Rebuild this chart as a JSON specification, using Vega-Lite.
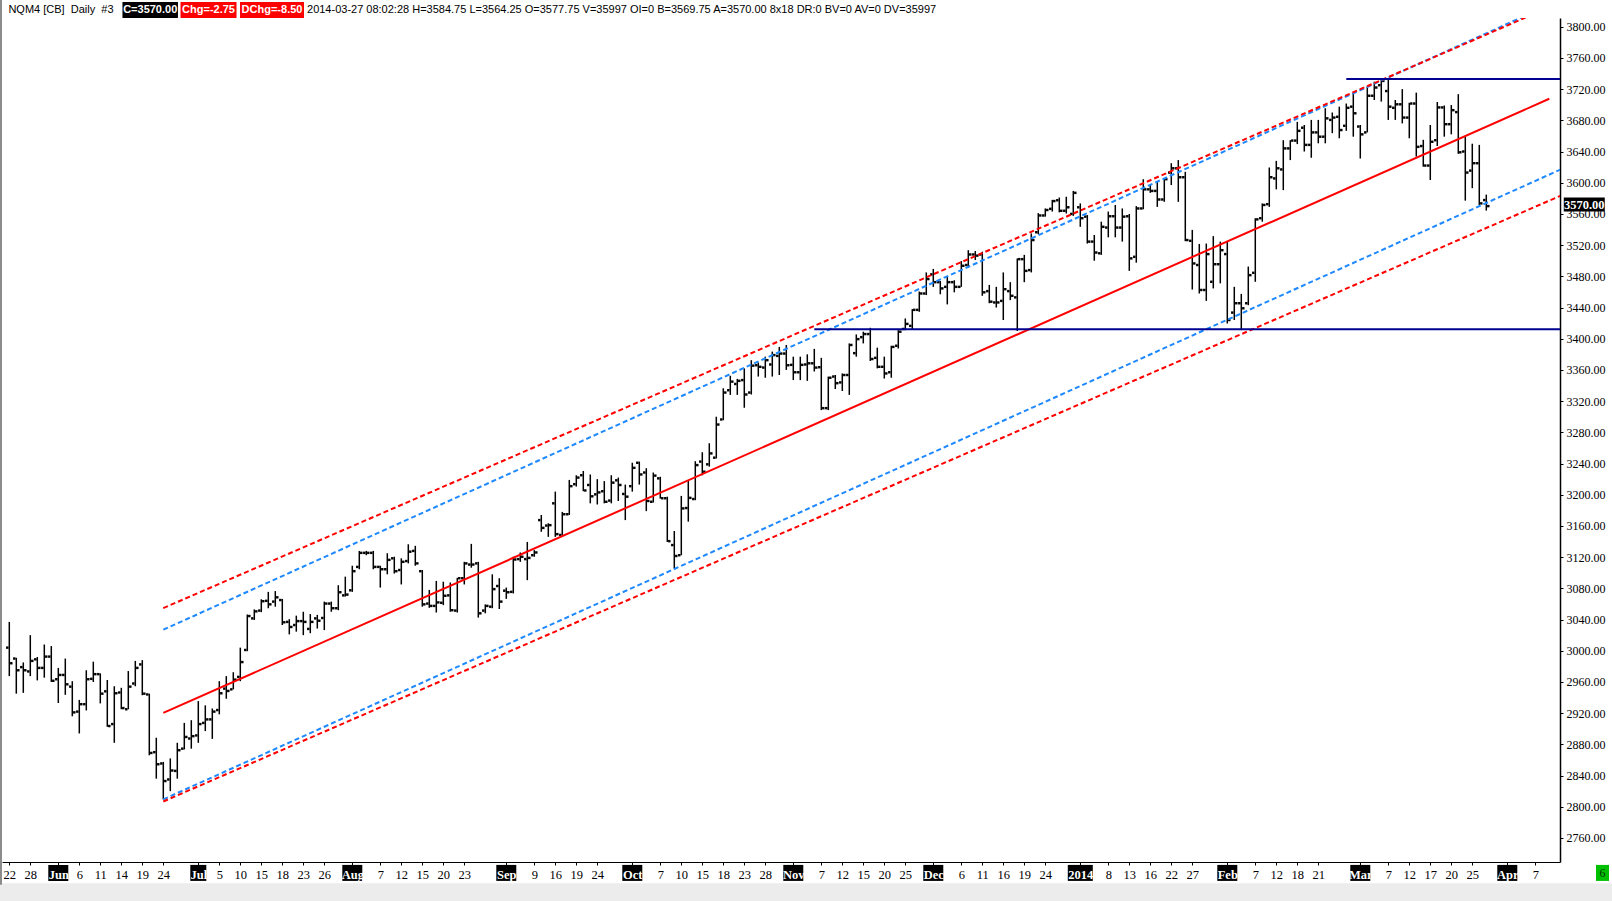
{
"$schema": "https://vega.github.io/schema/vega-lite/v6.json",
"width": 1558, "height": 844,
"autosize": {"type": "none"},
"padding": {"left": 2, "top": 18, "right": 52, "bottom": 39},
"background": "white",
"config": {"view": {"stroke": null}, "axis": {"labelOverlap": false}},
"datasets": {
"bars": [
{"n":0,"o":3004,"h":3037,"l":2967.5,"c":2984},{"n":1,"o":2990,"h":2991,"l":2945,"c":2975},{"n":2,"o":2979,"h":2985,"l":2946,"c":2975},{"n":3,"o":2973.5,"h":3020,"l":2967.5,"c":2987},{"n":4,"o":2989,"h":2992,"l":2962,"c":2978},{"n":5,"o":2978,"h":3008,"l":2965.5,"c":2992.5},{"n":6,"o":2992.5,"h":3006,"l":2960,"c":2961.5},{"n":7,"o":2963.5,"h":2978,"l":2933,"c":2969},{"n":8,"o":2969,"h":2990,"l":2943.5,"c":2957},{"n":9,"o":2954,"h":2961,"l":2916,"c":2921},
{"n":10,"o":2922,"h":2937,"l":2894,"c":2931.5},{"n":11,"o":2931.5,"h":2975,"l":2923.5,"c":2963.5},{"n":12,"o":2964,"h":2986,"l":2960,"c":2970},{"n":13,"o":2970,"h":2971,"l":2932.5,"c":2945},{"n":14,"o":2948,"h":2962.5,"l":2902.5,"c":2903.5},{"n":15,"o":2906,"h":2954.5,"l":2882,"c":2945.5},{"n":16,"o":2946.5,"h":2952.5,"l":2925,"c":2926.5},{"n":17,"o":2925,"h":2974,"l":2925,"c":2954},{"n":18,"o":2958,"h":2987,"l":2954.5,"c":2978},{"n":19,"o":2982.5,"h":2988,"l":2943,"c":2945},
{"n":20,"o":2944,"h":2945,"l":2866,"c":2869},{"n":21,"o":2870,"h":2888.5,"l":2836,"c":2854.5},{"n":22,"o":2855.5,"h":2857.5,"l":2809.5,"c":2833},{"n":23,"o":2835,"h":2862,"l":2820,"c":2846.5},{"n":24,"o":2846,"h":2882,"l":2836,"c":2872.5},{"n":25,"o":2874.5,"h":2907.5,"l":2873.5,"c":2889.5},{"n":26,"o":2887.5,"h":2911,"l":2874.5,"c":2890.5},{"n":27,"o":2891.5,"h":2935.5,"l":2882,"c":2906},{"n":28,"o":2907.5,"h":2930,"l":2897,"c":2912},{"n":29,"o":2912,"h":2926,"l":2887,"c":2922},
{"n":30,"o":2924,"h":2961,"l":2918.5,"c":2945.5},{"n":31,"o":2951.5,"h":2967.5,"l":2938.5,"c":2948.5},{"n":32,"o":2950.5,"h":2972.5,"l":2950.5,"c":2963},{"n":33,"o":2966.5,"h":3004,"l":2961,"c":2985.5},{"n":34,"o":3001,"h":3046.5,"l":2999.5,"c":3044.5},{"n":35,"o":3041.5,"h":3053,"l":3039.5,"c":3050.5},{"n":36,"o":3051.5,"h":3066,"l":3049.5,"c":3063.5},{"n":37,"o":3064,"h":3075.5,"l":3054.5,"c":3059.5},{"n":38,"o":3063,"h":3076.5,"l":3056.5,"c":3068.5},{"n":39,"o":3065,"h":3066.5,"l":3033,"c":3036.5},
{"n":40,"o":3037,"h":3040.5,"l":3021,"c":3030.5},{"n":41,"o":3033,"h":3045,"l":3024.5,"c":3038},{"n":42,"o":3038,"h":3050,"l":3020,"c":3037},{"n":43,"o":3028,"h":3047,"l":3022.5,"c":3037},{"n":44,"o":3041.5,"h":3046,"l":3028.5,"c":3038.5},{"n":45,"o":3042,"h":3063,"l":3026.5,"c":3060.5},{"n":46,"o":3060.5,"h":3063,"l":3050,"c":3054.5},{"n":47,"o":3054.5,"h":3084,"l":3052,"c":3075},{"n":48,"o":3071,"h":3095,"l":3069.5,"c":3072},{"n":49,"o":3077.5,"h":3109,"l":3075.5,"c":3102},
{"n":50,"o":3107.5,"h":3128,"l":3104.5,"c":3125.5},{"n":51,"o":3125.5,"h":3128,"l":3122.5,"c":3125.5},{"n":52,"o":3125.5,"h":3128,"l":3104.5,"c":3107.5},{"n":53,"o":3107.5,"h":3109,"l":3081,"c":3104.5},{"n":54,"o":3104.5,"h":3125,"l":3098,"c":3116.5},{"n":55,"o":3118.5,"h":3120.5,"l":3099,"c":3102},{"n":56,"o":3103.5,"h":3118.5,"l":3085,"c":3114},{"n":57,"o":3115,"h":3136.5,"l":3112,"c":3127},{"n":58,"o":3128,"h":3134.5,"l":3109,"c":3112},{"n":59,"o":3102,"h":3103.5,"l":3056.5,"c":3059.5},
{"n":60,"o":3060.5,"h":3078,"l":3055,"c":3057.5},{"n":61,"o":3057.5,"h":3089.5,"l":3049,"c":3062},{"n":62,"o":3061.5,"h":3088.5,"l":3058.5,"c":3070.5},{"n":63,"o":3071,"h":3087.5,"l":3050,"c":3052},{"n":64,"o":3051.5,"h":3093.5,"l":3049,"c":3093},{"n":65,"o":3093,"h":3114,"l":3085,"c":3112},{"n":66,"o":3110.5,"h":3137,"l":3106.5,"c":3110.5},{"n":67,"o":3112,"h":3114,"l":3042.5,"c":3048},{"n":68,"o":3051.5,"h":3059.5,"l":3048,"c":3057.5},{"n":69,"o":3056.5,"h":3098,"l":3054.5,"c":3079},
{"n":70,"o":3083,"h":3093,"l":3053.5,"c":3063},{"n":71,"o":3077,"h":3081,"l":3066.5,"c":3075},{"n":72,"o":3075.5,"h":3120.5,"l":3073.5,"c":3117},{"n":73,"o":3117.5,"h":3126,"l":3114,"c":3120.5},{"n":74,"o":3117.5,"h":3139.5,"l":3090.5,"c":3119},{"n":75,"o":3122.5,"h":3129,"l":3120.5,"c":3126},{"n":76,"o":3167.5,"h":3174,"l":3152.5,"c":3157.5},{"n":77,"o":3160.5,"h":3163.5,"l":3146,"c":3161},{"n":78,"o":3189,"h":3204,"l":3146,"c":3149.5},{"n":79,"o":3148.5,"h":3178,"l":3148.5,"c":3175},
{"n":80,"o":3175,"h":3219,"l":3174,"c":3211},{"n":81,"o":3213.5,"h":3225,"l":3210.5,"c":3222},{"n":82,"o":3225,"h":3230.5,"l":3204.5,"c":3205.5},{"n":83,"o":3212.5,"h":3226,"l":3189,"c":3198},{"n":84,"o":3200.5,"h":3220,"l":3187.5,"c":3203},{"n":85,"o":3204.5,"h":3217.5,"l":3189,"c":3191},{"n":86,"o":3192.5,"h":3225,"l":3189,"c":3215.5},{"n":87,"o":3218.5,"h":3222,"l":3192,"c":3212.5},{"n":88,"o":3201,"h":3213,"l":3167.5,"c":3197.5},{"n":89,"o":3211,"h":3241,"l":3204,"c":3234.5},
{"n":90,"o":3241,"h":3242.5,"l":3213,"c":3226},{"n":91,"o":3228.5,"h":3234,"l":3179,"c":3192},{"n":92,"o":3191,"h":3228.5,"l":3190,"c":3224.5},{"n":93,"o":3221,"h":3223,"l":3195,"c":3195.5},{"n":94,"o":3195.5,"h":3197.5,"l":3139.5,"c":3140.5},{"n":95,"o":3135.5,"h":3153.5,"l":3105.5,"c":3121.5},{"n":96,"o":3122.5,"h":3198.5,"l":3122.5,"c":3182.5},{"n":97,"o":3183,"h":3218,"l":3165.5,"c":3196},{"n":98,"o":3194.5,"h":3243,"l":3193,"c":3238},{"n":99,"o":3242.5,"h":3254.5,"l":3225,"c":3229.5},
{"n":100,"o":3239,"h":3266,"l":3236,"c":3253},{"n":101,"o":3247.5,"h":3300,"l":3246.5,"c":3290},{"n":102,"o":3296.5,"h":3336.5,"l":3295.5,"c":3331},{"n":103,"o":3334,"h":3352.5,"l":3328,"c":3345},{"n":104,"o":3342,"h":3348.5,"l":3328,"c":3346},{"n":105,"o":3347,"h":3362,"l":3311.5,"c":3328.5},{"n":106,"o":3331,"h":3372.5,"l":3328.5,"c":3365.5},{"n":107,"o":3366,"h":3369.5,"l":3351.5,"c":3364},{"n":108,"o":3363,"h":3377,"l":3350,"c":3372.5},{"n":109,"o":3367,"h":3383.5,"l":3351.5,"c":3379},
{"n":110,"o":3378,"h":3389.5,"l":3353.5,"c":3381},{"n":111,"o":3381,"h":3392,"l":3360,"c":3366},{"n":112,"o":3366.5,"h":3377,"l":3347,"c":3357},{"n":113,"o":3357,"h":3377,"l":3347,"c":3366.5},{"n":114,"o":3367,"h":3380,"l":3346,"c":3368.5},{"n":115,"o":3368.5,"h":3387,"l":3358,"c":3363},{"n":116,"o":3363.5,"h":3375.5,"l":3308.5,"c":3311},{"n":117,"o":3311,"h":3351.5,"l":3308.5,"c":3350},{"n":118,"o":3351.5,"h":3353.5,"l":3335.5,"c":3343},{"n":119,"o":3344,"h":3355.5,"l":3333,"c":3353.5},
{"n":120,"o":3353.5,"h":3394,"l":3328,"c":3392},{"n":121,"o":3381.5,"h":3405.5,"l":3377,"c":3399.5},{"n":122,"o":3402,"h":3409,"l":3394,"c":3406},{"n":123,"o":3406,"h":3414,"l":3371.5,"c":3374},{"n":124,"o":3375.5,"h":3388.5,"l":3362,"c":3364},{"n":125,"o":3364,"h":3377,"l":3349,"c":3355.5},{"n":126,"o":3357,"h":3391,"l":3350,"c":3389.5},{"n":127,"o":3391,"h":3411,"l":3387.5,"c":3409},{"n":128,"o":3412.5,"h":3426,"l":3411,"c":3419},{"n":129,"o":3416.5,"h":3438,"l":3412.5,"c":3437},
{"n":130,"o":3437,"h":3460.5,"l":3434.5,"c":3458},{"n":131,"o":3458,"h":3485,"l":3456,"c":3476.5},{"n":132,"o":3482.5,"h":3489.5,"l":3466.5,"c":3472.5},{"n":133,"o":3472.5,"h":3474,"l":3457,"c":3464.5},{"n":134,"o":3466.5,"h":3479.5,"l":3444,"c":3472.5},{"n":135,"o":3472.5,"h":3475,"l":3459.5,"c":3466.5},{"n":136,"o":3466.5,"h":3499.5,"l":3466.5,"c":3493.5},{"n":137,"o":3494.5,"h":3513.5,"l":3491,"c":3508},{"n":138,"o":3508,"h":3512.5,"l":3501,"c":3506.5},{"n":139,"o":3508,"h":3511.5,"l":3455,"c":3459.5},
{"n":140,"o":3461,"h":3469,"l":3445.5,"c":3447.5},{"n":141,"o":3446.5,"h":3466.5,"l":3440,"c":3446.5},{"n":142,"o":3448.5,"h":3485,"l":3424,"c":3463.5},{"n":143,"o":3461,"h":3472.5,"l":3449.5,"c":3455},{"n":144,"o":3453,"h":3503,"l":3410,"c":3502},{"n":145,"o":3502,"h":3507.5,"l":3472.5,"c":3487},{"n":146,"o":3488,"h":3535,"l":3485,"c":3526.5},{"n":147,"o":3536.5,"h":3561,"l":3534,"c":3558},{"n":148,"o":3558,"h":3567,"l":3556.5,"c":3565},{"n":149,"o":3566.5,"h":3578,"l":3563,"c":3576.5},
{"n":150,"o":3577.5,"h":3581,"l":3562,"c":3564},{"n":151,"o":3564,"h":3582,"l":3560.5,"c":3568.5},{"n":152,"o":3560,"h":3589.5,"l":3557.5,"c":3587},{"n":153,"o":3568.5,"h":3573.5,"l":3543.5,"c":3554.5},{"n":154,"o":3556.5,"h":3558.5,"l":3522,"c":3524.5},{"n":155,"o":3524.5,"h":3533,"l":3500,"c":3510.5},{"n":156,"o":3509.5,"h":3550,"l":3507.5,"c":3543.5},{"n":157,"o":3542.5,"h":3563,"l":3530,"c":3557},{"n":158,"o":3557,"h":3571.5,"l":3530,"c":3542.5},{"n":159,"o":3542.5,"h":3567,"l":3524.5,"c":3556.5},
{"n":160,"o":3557,"h":3560,"l":3487,"c":3503},{"n":161,"o":3505,"h":3570,"l":3497.5,"c":3567},{"n":162,"o":3567,"h":3604.5,"l":3566,"c":3591.5},{"n":163,"o":3591.5,"h":3597,"l":3587,"c":3589.5},{"n":164,"o":3589.5,"h":3601.5,"l":3569,"c":3578.5},{"n":165,"o":3578.5,"h":3605.5,"l":3575.5,"c":3604.5},{"n":166,"o":3613,"h":3625,"l":3597,"c":3618.5},{"n":167,"o":3618.5,"h":3629,"l":3575.5,"c":3607},{"n":168,"o":3607,"h":3614,"l":3525,"c":3526.5},{"n":169,"o":3525.5,"h":3539.5,"l":3463,"c":3496.5},
{"n":170,"o":3494.5,"h":3521.5,"l":3458,"c":3462.5},{"n":171,"o":3462.5,"h":3522,"l":3448.5,"c":3508.5},{"n":172,"o":3473,"h":3531.5,"l":3464.5,"c":3495.5},{"n":173,"o":3495.5,"h":3524.5,"l":3471,"c":3513.5},{"n":174,"o":3508.5,"h":3524.5,"l":3419.5,"c":3424},{"n":175,"o":3433.5,"h":3466.5,"l":3424,"c":3445.5},{"n":176,"o":3445.5,"h":3457.5,"l":3411,"c":3439},{"n":177,"o":3445.5,"h":3492.5,"l":3443,"c":3481.5},{"n":178,"o":3484.5,"h":3554.5,"l":3473,"c":3553},{"n":179,"o":3554.5,"h":3573.5,"l":3550,"c":3571.5},
{"n":180,"o":3572.5,"h":3619.5,"l":3569,"c":3607},{"n":181,"o":3605.5,"h":3628,"l":3591.5,"c":3618.5},{"n":182,"o":3617,"h":3654.5,"l":3590.5,"c":3644},{"n":183,"o":3644,"h":3654.5,"l":3629,"c":3654},{"n":184,"o":3654,"h":3678,"l":3649.5,"c":3666.5},{"n":185,"o":3670.5,"h":3674,"l":3640,"c":3648.5},{"n":186,"o":3648.5,"h":3680.5,"l":3632,"c":3664.5},{"n":187,"o":3664.5,"h":3680.5,"l":3650.5,"c":3659},{"n":188,"o":3659,"h":3695.5,"l":3650.5,"c":3682.5},{"n":189,"o":3680.5,"h":3690,"l":3663.5,"c":3683.5},
{"n":190,"o":3684.5,"h":3697.5,"l":3657,"c":3667.5},{"n":191,"o":3673,"h":3701.5,"l":3666.5,"c":3696},{"n":192,"o":3697.5,"h":3714.5,"l":3659,"c":3689},{"n":193,"o":3672,"h":3674,"l":3631,"c":3662},{"n":194,"o":3664.5,"h":3723,"l":3664.5,"c":3711.5},{"n":195,"o":3711.5,"h":3729.5,"l":3706,"c":3722},{"n":196,"o":3725,"h":3733,"l":3704,"c":3730.5},{"n":197,"o":3717.5,"h":3733,"l":3680.5,"c":3697.5},{"n":198,"o":3696,"h":3706,"l":3680.5,"c":3700.5},{"n":199,"o":3700.5,"h":3720,"l":3676,"c":3683.5},
{"n":200,"o":3683.5,"h":3702.5,"l":3657,"c":3701.5},{"n":201,"o":3701.5,"h":3715.5,"l":3633.5,"c":3646},{"n":202,"o":3647,"h":3655,"l":3620.5,"c":3622},{"n":203,"o":3622,"h":3674,"l":3603.5,"c":3652.5},{"n":204,"o":3654.5,"h":3703.5,"l":3647,"c":3696.5},{"n":205,"o":3696.5,"h":3699,"l":3659,"c":3675},{"n":206,"o":3675,"h":3699.5,"l":3662,"c":3693},{"n":207,"o":3690.5,"h":3713.5,"l":3637,"c":3639},{"n":208,"o":3640,"h":3659,"l":3577,"c":3613},{"n":209,"o":3615.5,"h":3650,"l":3593,"c":3625},
{"n":210,"o":3625,"h":3648.5,"l":3571.5,"c":3573.5},{"n":211,"o":3577.75,"h":3584.75,"l":3564.25,"c":3570}
],
"redChannel": [{"side":"upper","n":22,"p":3054.7},{"side":"upper","n":222,"p":3832.7},{"side":"lower","n":22,"p":2806.8},{"side":"lower","n":222,"p":3584.8}],
"blueChannel": [{"side":"upper","n":22,"p":3027.0},{"side":"upper","n":222,"p":3836.0},{"side":"lower","n":22,"p":2809.5},{"side":"lower","n":222,"p":3618.5}],
"midLine": [{"n":22,"p":2920.3},{"n":220,"p":3707.6}],
"levels": [{"n0":115,"n1":223,"p":3412},{"n0":191,"n1":223,"p":3733}],
"months": [{"n":7,"m":"Jun"},{"n":27,"m":"Jul"},{"n":49,"m":"Aug"},{"n":71,"m":"Sep"},{"n":89,"m":"Oct"},{"n":112,"m":"Nov"},{"n":132,"m":"Dec"},{"n":153,"m":"2014"},{"n":174,"m":"Feb"},{"n":193,"m":"Mar"},{"n":214,"m":"Apr"}]
},
"layer": [
{"data": {"values": [{}]},
 "mark": {"type": "rect", "color": "#ECECEC"},
 "encoding": {
  "x": {"datum": -2, "type": "quantitative", "scale": {"domain": [-1.043, 221.53], "nice": false, "zero": false}},
  "x2": {"datum": 232},
  "y": {"datum": 2701.8, "type": "quantitative", "scale": {"domain": [2729.2, 3811.15], "nice": false, "zero": false}},
  "y2": {"datum": 2668}}},
{"data": {"values": [{}]},
 "mark": {"type": "rule", "color": "#8c8c8c", "strokeWidth": 2},
 "encoding": {
  "x": {"datum": -1.186, "type": "quantitative", "scale": {"domain": [-1.043, 221.53], "nice": false, "zero": false}},
  "y": {"datum": 3835, "type": "quantitative", "scale": {"domain": [2729.2, 3811.15], "nice": false, "zero": false}},
  "y2": {"datum": 2700}}},
{"data": {"name": "months"},
 "mark": {"type": "tick", "orient": "horizontal", "thickness": 16, "color": "black", "opacity": 1},
 "encoding": {
  "x": {"field": "n", "type": "quantitative", "scale": {"domain": [-1.043, 221.53], "nice": false, "zero": false}},
  "y": {"datum": 2715.2, "type": "quantitative", "scale": {"domain": [2729.2, 3811.15], "nice": false, "zero": false}},
  "size": {"condition": [{"test": "datum.m == '2014'", "value": 25}, {"test": "datum.m == 'Jul'", "value": 16}], "value": 20}}},
{"data": {"name": "bars"},
 "mark": {"type": "rule", "color": "black", "strokeWidth": 1.5},
 "encoding": {
  "x": {"field": "n", "type": "quantitative", "scale": {"domain": [-1.043, 221.53], "nice": false, "zero": false},
   "axis": {"title": null, "grid": false, "zindex": 1, "tickCount": 500,
    "values": [0,3,7,10,13,16,19,22,27,30,33,36,39,42,45,49,53,56,59,62,65,71,75,78,81,84,89,93,96,99,102,105,108,112,116,119,122,125,128,132,136,139,142,145,148,153,157,160,163,166,169,174,178,181,184,187,193,197,200,203,206,209,214,218],
    "labelExpr": "datum.value==0?'22':datum.value==3?'28':datum.value==7?'Jun':datum.value==10?'6':datum.value==13?'11':datum.value==16?'14':datum.value==19?'19':datum.value==22?'24':datum.value==27?'Jul':datum.value==30?'5':datum.value==33?'10':datum.value==36?'15':datum.value==39?'18':datum.value==42?'23':datum.value==45?'26':datum.value==49?'Aug':datum.value==53?'7':datum.value==56?'12':datum.value==59?'15':datum.value==62?'20':datum.value==65?'23':datum.value==71?'Sep':datum.value==75?'9':datum.value==78?'16':datum.value==81?'19':datum.value==84?'24':datum.value==89?'Oct':datum.value==93?'7':datum.value==96?'10':datum.value==99?'15':datum.value==102?'18':datum.value==105?'23':datum.value==108?'28':datum.value==112?'Nov':datum.value==116?'7':datum.value==119?'12':datum.value==122?'15':datum.value==125?'20':datum.value==128?'25':datum.value==132?'Dec':datum.value==136?'6':datum.value==139?'11':datum.value==142?'16':datum.value==145?'19':datum.value==148?'24':datum.value==153?'2014':datum.value==157?'8':datum.value==160?'13':datum.value==163?'16':datum.value==166?'22':datum.value==169?'27':datum.value==174?'Feb':datum.value==178?'7':datum.value==181?'12':datum.value==184?'18':datum.value==187?'21':datum.value==193?'Mar':datum.value==197?'7':datum.value==200?'12':datum.value==203?'17':datum.value==206?'20':datum.value==209?'25':datum.value==214?'Apr':'7'",
    "labelColor": {"condition": {"test": "datum.value==7||datum.value==27||datum.value==49||datum.value==71||datum.value==89||datum.value==112||datum.value==132||datum.value==153||datum.value==174||datum.value==193||datum.value==214", "value": "white"}, "value": "black"},
    "labelFontWeight": {"condition": {"test": "datum.value==7||datum.value==27||datum.value==49||datum.value==71||datum.value==89||datum.value==112||datum.value==132||datum.value==153||datum.value==174||datum.value==193||datum.value==214", "value": "bold"}, "value": "normal"},
    "labelFont": "Liberation Sans Narrow", "labelFontSize": 12.5,
    "labelAngle": 0, "labelPadding": 3, "labelOverlap": false, "labelBound": false, "labelFlush": false,
    "tickSize": 3, "tickColor": "black", "domainColor": "black", "domainWidth": 1}},
  "y": {"field": "h", "type": "quantitative", "scale": {"domain": [2729.2, 3811.15], "nice": false, "zero": false},
   "axis": {"orient": "right", "title": null, "grid": false, "tickCount": 500,
    "values": [2760,2800,2840,2880,2920,2960,3000,3040,3080,3120,3160,3200,3240,3280,3320,3360,3400,3440,3480,3520,3560,3600,3640,3680,3720,3760,3800],
    "format": ".2f", "labelFont": "Liberation Sans Narrow", "labelFontSize": 12, "labelColor": "black",
    "labelPadding": 3, "labelOverlap": false, "labelBound": false, "labelFlush": false,
    "tickSize": 3, "tickColor": "black", "domainColor": "black", "domainWidth": 1.5}},
  "y2": {"field": "l"}}},
{"data": {"name": "bars"},
 "mark": {"type": "square", "color": "black", "filled": true, "opacity": 1, "size": 6, "xOffset": -2},
 "encoding": {
  "x": {"field": "n", "type": "quantitative", "scale": {"domain": [-1.043, 221.53], "nice": false, "zero": false}},
  "y": {"field": "o", "type": "quantitative", "scale": {"domain": [2729.2, 3811.15], "nice": false, "zero": false}}}},
{"data": {"name": "bars"},
 "mark": {"type": "square", "color": "black", "filled": true, "opacity": 1, "size": 6, "xOffset": 2},
 "encoding": {
  "x": {"field": "n", "type": "quantitative", "scale": {"domain": [-1.043, 221.53], "nice": false, "zero": false}},
  "y": {"field": "c", "type": "quantitative", "scale": {"domain": [2729.2, 3811.15], "nice": false, "zero": false}}}},
{"data": {"name": "blueChannel"},
 "mark": {"type": "line", "color": "#1E88FF", "strokeWidth": 2, "strokeDash": [5, 3], "clip": true},
 "encoding": {
  "x": {"field": "n", "type": "quantitative", "scale": {"domain": [-1.043, 221.53], "nice": false, "zero": false}},
  "y": {"field": "p", "type": "quantitative", "scale": {"domain": [2729.2, 3811.15], "nice": false, "zero": false}},
  "detail": {"field": "side"}}},
{"data": {"name": "redChannel"},
 "mark": {"type": "line", "color": "#FF0000", "strokeWidth": 2, "strokeDash": [5, 3], "clip": true},
 "encoding": {
  "x": {"field": "n", "type": "quantitative", "scale": {"domain": [-1.043, 221.53], "nice": false, "zero": false}},
  "y": {"field": "p", "type": "quantitative", "scale": {"domain": [2729.2, 3811.15], "nice": false, "zero": false}},
  "detail": {"field": "side"}}},
{"data": {"name": "midLine"},
 "mark": {"type": "line", "color": "#FF0000", "strokeWidth": 2, "clip": true},
 "encoding": {
  "x": {"field": "n", "type": "quantitative", "scale": {"domain": [-1.043, 221.53], "nice": false, "zero": false}},
  "y": {"field": "p", "type": "quantitative", "scale": {"domain": [2729.2, 3811.15], "nice": false, "zero": false}}}},
{"data": {"name": "levels"},
 "mark": {"type": "rule", "color": "#000090", "strokeWidth": 2, "clip": true},
 "encoding": {
  "x": {"field": "n0", "type": "quantitative", "scale": {"domain": [-1.043, 221.53], "nice": false, "zero": false}},
  "x2": {"field": "n1"},
  "y": {"field": "p", "type": "quantitative", "scale": {"domain": [2729.2, 3811.15], "nice": false, "zero": false}}}},
{"data": {"values": [{"t": "NQM4 [CB]\u00a0\u00a0Daily\u00a0\u00a0#3"}]},
 "mark": {"type": "text", "align": "left", "baseline": "middle", "font": "Liberation Sans", "fontSize": 11, "color": "black"},
 "encoding": {
  "x": {"datum": -0.13, "type": "quantitative", "scale": {"domain": [-1.043, 221.53], "nice": false, "zero": false}},
  "y": {"datum": 3821.4, "type": "quantitative", "scale": {"domain": [2729.2, 3811.15], "nice": false, "zero": false}},
  "text": {"field": "t"}}},
{"data": {"values": [{}]},
 "mark": {"type": "tick", "orient": "horizontal", "thickness": 16, "color": "black", "opacity": 1},
 "encoding": {
  "x": {"datum": 20.13, "type": "quantitative", "scale": {"domain": [-1.043, 221.53], "nice": false, "zero": false}},
  "y": {"datum": 3821.4, "type": "quantitative", "scale": {"domain": [2729.2, 3811.15], "nice": false, "zero": false}},
  "size": {"value": 55.5}}},
{"data": {"values": [{}]},
 "mark": {"type": "tick", "orient": "horizontal", "thickness": 16, "color": "#FF0000", "opacity": 1},
 "encoding": {
  "x": {"datum": 28.46, "type": "quantitative", "scale": {"domain": [-1.043, 221.53], "nice": false, "zero": false}},
  "y": {"datum": 3821.4, "type": "quantitative", "scale": {"domain": [2729.2, 3811.15], "nice": false, "zero": false}},
  "size": {"value": 56}}},
{"data": {"values": [{}]},
 "mark": {"type": "tick", "orient": "horizontal", "thickness": 16, "color": "#FF0000", "opacity": 1},
 "encoding": {
  "x": {"datum": 37.53, "type": "quantitative", "scale": {"domain": [-1.043, 221.53], "nice": false, "zero": false}},
  "y": {"datum": 3821.4, "type": "quantitative", "scale": {"domain": [2729.2, 3811.15], "nice": false, "zero": false}},
  "size": {"value": 64}}},
{"data": {"values": [{"t": "C=3570.00"}]},
 "mark": {"type": "text", "align": "center", "baseline": "middle", "font": "Liberation Sans", "fontSize": 11, "fontWeight": "bold", "color": "white"},
 "encoding": {
  "x": {"datum": 20.13, "type": "quantitative", "scale": {"domain": [-1.043, 221.53], "nice": false, "zero": false}},
  "y": {"datum": 3821.4, "type": "quantitative", "scale": {"domain": [2729.2, 3811.15], "nice": false, "zero": false}},
  "text": {"field": "t"}}},
{"data": {"values": [{"t": "Chg=-2.75"}]},
 "mark": {"type": "text", "align": "center", "baseline": "middle", "font": "Liberation Sans", "fontSize": 11, "fontWeight": "bold", "color": "white"},
 "encoding": {
  "x": {"datum": 28.46, "type": "quantitative", "scale": {"domain": [-1.043, 221.53], "nice": false, "zero": false}},
  "y": {"datum": 3821.4, "type": "quantitative", "scale": {"domain": [2729.2, 3811.15], "nice": false, "zero": false}},
  "text": {"field": "t"}}},
{"data": {"values": [{"t": "DChg=-8.50"}]},
 "mark": {"type": "text", "align": "center", "baseline": "middle", "font": "Liberation Sans", "fontSize": 11, "fontWeight": "bold", "color": "white"},
 "encoding": {
  "x": {"datum": 37.53, "type": "quantitative", "scale": {"domain": [-1.043, 221.53], "nice": false, "zero": false}},
  "y": {"datum": 3821.4, "type": "quantitative", "scale": {"domain": [2729.2, 3811.15], "nice": false, "zero": false}},
  "text": {"field": "t"}}},
{"data": {"values": [{"t": "2014-03-27 08:02:28 H=3584.75 L=3564.25 O=3577.75 V=35997 OI=0 B=3569.75 A=3570.00 8x18 DR:0 BV=0 AV=0 DV=35997"}]},
 "mark": {"type": "text", "align": "left", "baseline": "middle", "font": "Liberation Sans", "fontSize": 11, "color": "black"},
 "encoding": {
  "x": {"datum": 42.53, "type": "quantitative", "scale": {"domain": [-1.043, 221.53], "nice": false, "zero": false}},
  "y": {"datum": 3821.4, "type": "quantitative", "scale": {"domain": [2729.2, 3811.15], "nice": false, "zero": false}},
  "text": {"field": "t"}}},
{"data": {"values": [{}]},
 "mark": {"type": "tick", "orient": "horizontal", "thickness": 14, "color": "black", "opacity": 1},
 "encoding": {
  "x": {"datum": 225.0, "type": "quantitative", "scale": {"domain": [-1.043, 221.53], "nice": false, "zero": false}},
  "y": {"datum": 3572, "type": "quantitative", "scale": {"domain": [2729.2, 3811.15], "nice": false, "zero": false}},
  "size": {"value": 41}}},
{"data": {"values": [{"t": "3570.00"}]},
 "mark": {"type": "text", "align": "center", "baseline": "middle", "font": "Liberation Sans Narrow", "fontSize": 12.5, "fontWeight": "bold", "color": "white"},
 "encoding": {
  "x": {"datum": 225.0, "type": "quantitative", "scale": {"domain": [-1.043, 221.53], "nice": false, "zero": false}},
  "y": {"datum": 3572, "type": "quantitative", "scale": {"domain": [2729.2, 3811.15], "nice": false, "zero": false}},
  "text": {"field": "t"}}},
{"data": {"values": [{}]},
 "mark": {"type": "tick", "orient": "horizontal", "thickness": 16, "color": "#00C000", "opacity": 1},
 "encoding": {
  "x": {"datum": 227.6, "type": "quantitative", "scale": {"domain": [-1.043, 221.53], "nice": false, "zero": false}},
  "y": {"datum": 2715.2, "type": "quantitative", "scale": {"domain": [2729.2, 3811.15], "nice": false, "zero": false}},
  "size": {"value": 13}}},
{"data": {"values": [{"t": "6"}]},
 "mark": {"type": "text", "align": "center", "baseline": "middle", "font": "Liberation Sans Narrow", "fontSize": 12, "color": "#003300"},
 "encoding": {
  "x": {"datum": 227.6, "type": "quantitative", "scale": {"domain": [-1.043, 221.53], "nice": false, "zero": false}},
  "y": {"datum": 2715.2, "type": "quantitative", "scale": {"domain": [2729.2, 3811.15], "nice": false, "zero": false}},
  "text": {"field": "t"}}}
]
}
